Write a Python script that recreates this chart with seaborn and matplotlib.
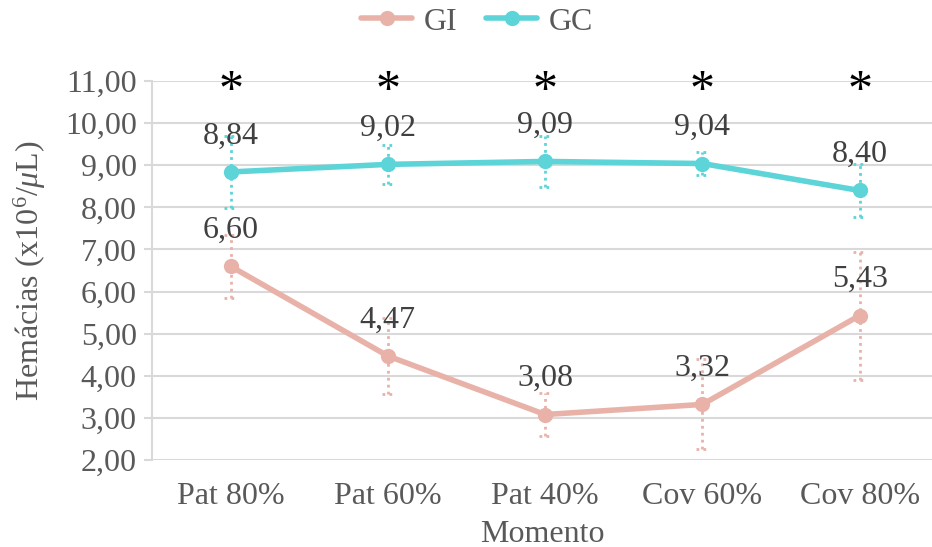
import matplotlib
matplotlib.use("Agg")
import matplotlib.pyplot as plt
import seaborn as sns
import pandas as pd

# Data
momentos = ["Pat 80%", "Pat 60%", "Pat 40%", "Cov 60%", "Cov 80%"]
gi_media = [6.60, 4.47, 3.08, 3.32, 5.43]
gi_dp = [0.75, 0.90, 0.50, 1.07, 1.52]
gc_media = [8.84, 9.02, 9.09, 9.04, 8.40]
gc_dp = [0.86, 0.47, 0.60, 0.27, 0.62]
grupos = ["GI", "GC"]
cores = {"GI": "#E8B2A9", "GC": "#5CD4D8"}
y_ticks = [2, 3, 4, 5, 6, 7, 8, 9, 10, 11]

df = pd.DataFrame({
    "Momento": momentos * 2,
    "Grupo": ["GI"] * len(momentos) + ["GC"] * len(momentos),
    "Hemacias": gi_media + gc_media,
})

sns.set_theme(style="white")
plt.rcParams["font.family"] = ["Liberation Serif", "DejaVu Serif"]
plt.rcParams["mathtext.fontset"] = "custom"
plt.rcParams["mathtext.rm"] = "Liberation Serif"
plt.rcParams["mathtext.it"] = "Liberation Serif:italic"

texto = "#404040"
eixo = "#595959"
grade = "#D9D9D9"
fs = 23

fig = plt.figure(figsize=(9.32, 5.47), dpi=100)
ax = fig.add_axes([152 / 932, 1 - 460 / 547, 1 - 152 / 932, (460 - 81) / 547])

for y in y_ticks:
    ax.axhline(y, color=grade, lw=1.5, zorder=0)

# Error bars (dotted, with dotted caps)
for grupo, medias, dps in [("GI", gi_media, gi_dp), ("GC", gc_media, gc_dp)]:
    for i, (m, d) in enumerate(zip(medias, dps)):
        ax.vlines(i, m - d, m + d, colors=cores[grupo], linestyles=(0, (1, 1.5)), lw=2, zorder=2)
        ax.hlines([m - d, m + d], i - 0.04, i + 0.04, colors=cores[grupo],
                  linestyles=(0, (1, 1.5)), lw=2, zorder=2)

sns.lineplot(data=df, x="Momento", y="Hemacias", hue="Grupo", hue_order=grupos,
             palette=cores, marker="o", markersize=11, markeredgewidth=0,
             lw=4, sort=False, ax=ax, zorder=3)

# Value labels
for medias in (gi_media, gc_media):
    for i, m in enumerate(medias):
        ax.annotate(f"{m:.2f}".replace(".", ","), (i, m), xytext=(0, 26),
                    textcoords="offset points", ha="center", va="center",
                    fontsize=fs, color=texto, zorder=4)

# Significance marks
for i in range(len(momentos)):
    ax.text(i, 10.75, "*", ha="center", va="center", fontsize=36, color="black")

ax.set_xlim(-0.5, (932 - 152) / 157.25 - 0.5)
ax.set_ylim(2, 11)
ax.set_yticks(y_ticks)
ax.set_yticklabels([f"{v:.2f}".replace(".", ",") for v in y_ticks])
ax.tick_params(axis="y", labelsize=fs, labelcolor=eixo, length=6, color=grade, width=1.5, pad=5, left=True)
ax.tick_params(axis="x", labelsize=fs, labelcolor=eixo, length=0, pad=16)

for s in ["top", "right", "bottom"]:
    ax.spines[s].set_visible(False)
ax.spines["left"].set_color(grade)
ax.spines["left"].set_linewidth(1.5)

ax.set_xlabel("Momento", fontsize=fs, color=eixo, labelpad=6)
ax.set_ylabel(r"Hemácias (x10$^6$/$\mu$L)", fontsize=fs, color=eixo, labelpad=12)

leg = ax.legend(loc="center", ncol=2, frameon=False, fontsize=fs, handlelength=1.6,
                columnspacing=0.9, handletextpad=0.35, borderaxespad=0)
leg.set_bbox_to_anchor(((477 - 152) / 780, 1.0 + (81 - 22) / 379), transform=ax.transAxes)
for t in leg.get_texts():
    t.set_color(eixo)

fig.savefig("out.png", dpi=100)
